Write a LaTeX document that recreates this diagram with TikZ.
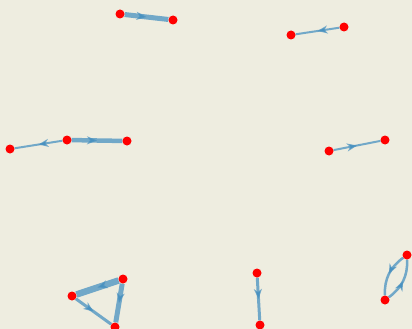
\documentclass[tikz,border=0pt]{standalone}
\usepackage{xcolor}
\usepackage{tikz}
\usetikzlibrary{arrows.meta,decorations.markings,backgrounds}

\definecolor{paper}{RGB}{238,237,224}
\definecolor{linkblue}{RGB}{72,145,192}

\begin{document}
\begin{tikzpicture}[
    x=1pt, y=-1pt,
    vertex/.style={circle, fill=red, inner sep=0pt, minimum size=9pt},
    link/.style={draw=linkblue, draw opacity=0.75, line width=#1,
        postaction={decorate, opacity=0.8, decoration={markings,
            mark=at position 0.5 with {\arrow[linkblue]{Stealth[length=10pt, width=8pt, inset=3pt]}}}}},
    link/.default=2pt
]
\useasboundingbox (0,0) rectangle (412,329);

\node[vertex] (a) at (120,14) {};
\node[vertex] (b) at (173,20) {};
\node[vertex] (c) at (291,35) {};
\node[vertex] (d) at (344,27) {};
\node[vertex] (e) at (10,149) {};
\node[vertex] (f) at (67,140) {};
\node[vertex] (g) at (127,141) {};
\node[vertex] (h) at (329,151) {};
\node[vertex] (i) at (385,140) {};
\node[vertex] (j) at (72,296) {};
\node[vertex] (k) at (123,279) {};
\node[vertex] (l) at (115,327) {};
\node[vertex] (m) at (257,273) {};
\node[vertex] (n) at (260,325) {};
\node[vertex] (o) at (407,255) {};
\node[vertex] (p) at (385,300) {};

\begin{scope}[on background layer]
\fill[paper] (0,0) rectangle (412,329);
\path[link=5pt] (a) -- (b);
\path[link] (d) -- (c);
\path[link=4.5pt] (f) -- (g);
\path[link] (f) -- (e);
\path[link] (h) -- (i);
\path[link=6.5pt] (k) -- (j);
\path[link=5pt] (k) -- (l);
\path[link=3pt] (j) -- (l);
\path[link=3pt] (m) -- (n);
\path[link=2.5pt] (o) to[bend right=28] (p);
\path[link=2.5pt] (p) to[bend right=28] (o);
\end{scope}
\end{tikzpicture}
\end{document}
